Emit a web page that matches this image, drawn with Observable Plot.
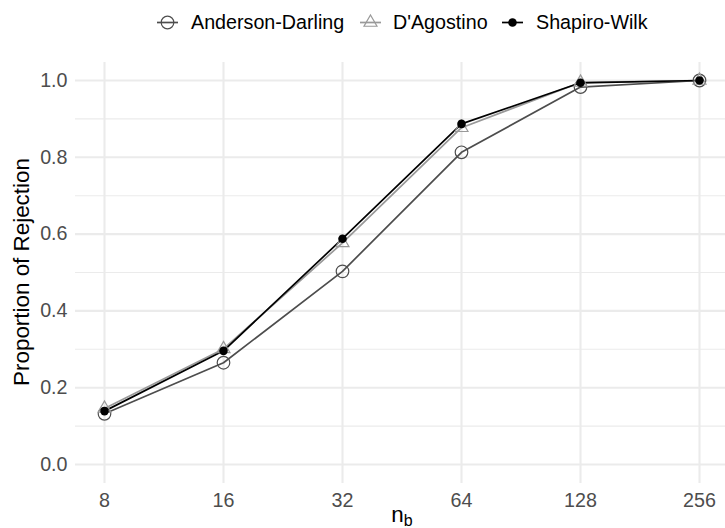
<!DOCTYPE html>
<html>
<head>
<meta charset="utf-8">
<script src="https://cdn.jsdelivr.net/npm/d3@7"></script>
<script src="https://cdn.jsdelivr.net/npm/@observablehq/plot@0.6"></script>
<style>
  html, body { margin: 0; padding: 0; background: #fff; }
  body { width: 725px; height: 528px; overflow: hidden; font-family: "Liberation Sans", Arial, sans-serif; }
  #legend { position: relative; width: 725px; height: 44px; }
  .item { position: absolute; top: 0; height: 44px; display: flex; align-items: center; font-size: 19.7px; color: #000; white-space: nowrap; }
  .key { position: absolute; top: 0; }
</style>
</head>
<body>
<div id="legend"></div>
<div id="chart"></div>
<script>
// ---- data ----
const sampleSizes = [8, 16, 32, 64, 128, 256];
const tests = ["Anderson-Darling", "D'Agostino", "Shapiro-Wilk"];
const andersonDarling = [0.132, 0.265, 0.503, 0.813, 0.983, 1.0];
const dAgostino = [0.146, 0.301, 0.577, 0.877, 0.995, 1.0];
const shapiroWilk = [0.139, 0.296, 0.588, 0.887, 0.994, 1.0];
const yTicks = [0, 0.2, 0.4, 0.6, 0.8, 1.0];
const yMinorTicks = [0.1, 0.3, 0.5, 0.7, 0.9];
const xTicks = [8, 16, 32, 64, 128, 256];
const seriesColors = ["#4D4D4D", "#999999", "#000000"];

const seriesValues = [andersonDarling, dAgostino, shapiroWilk];
const rows = [];
tests.forEach((t, i) => sampleSizes.forEach((n, j) => rows.push({test: t, n, p: seriesValues[i][j]})));

// triangle centred on centroid, r = circumradius
const triangle = {
  draw(context, size) {
    const r = Math.sqrt(size / Math.PI);
    const h = r * Math.sqrt(3) / 2;
    context.moveTo(0, -r);
    context.lineTo(h, r / 2);
    context.lineTo(-h, r / 2);
    context.closePath();
  }
};

const font = "Liberation Sans, Arial, sans-serif";
const chart = Plot.plot({
  width: 725,
  height: 484,
  marginLeft: 75,
  marginRight: 0,
  marginTop: 18,
  marginBottom: 45,
  style: {fontFamily: font, background: "#fff", overflow: "visible"},
  x: {type: "log", base: 2, domain: [8, 256], range: [104, 699]},
  y: {domain: [0, 1], range: [420, 36]},
  color: {domain: tests, range: seriesColors},
  marks: [
    Plot.gridY(yMinorTicks, {stroke: "#EBEBEB", strokeOpacity: 1, strokeWidth: 1.1}),
    Plot.gridY(yTicks, {stroke: "#EBEBEB", strokeOpacity: 1, strokeWidth: 2.1}),
    Plot.gridX(xTicks, {stroke: "#EBEBEB", strokeOpacity: 1, strokeWidth: 2.1}),
    Plot.axisY(yTicks, {tickSize: 0, tickPadding: 8, tickFormat: d => d.toFixed(1), fontSize: 19.7, fill: "#4D4D4D", label: null}),
    Plot.axisX(xTicks, {tickSize: 0, tickPadding: 9, tickFormat: d => String(d), fontSize: 19.7, fill: "#4D4D4D", label: null}),
    Plot.line(rows, {x: "n", y: "p", z: "test", stroke: "test", strokeWidth: 1.7}),
    Plot.dot(rows.filter(d => d.test === tests[0]), {x: "n", y: "p", r: 6.3, stroke: seriesColors[0], fill: "none", strokeWidth: 1.2}),
    Plot.dot(rows.filter(d => d.test === tests[1]), {x: "n", y: "p", r: 7.5, symbol: triangle, stroke: seriesColors[1], fill: "none", strokeWidth: 1.2}),
    Plot.dot(rows.filter(d => d.test === tests[2]), {x: "n", y: "p", r: 4.3, fill: seriesColors[2], stroke: "none"})
  ]
});
document.getElementById("chart").appendChild(chart);

const svg = d3.select(chart);
// y axis title
svg.append("text")
  .attr("transform", "translate(29,228) rotate(-90)")
  .attr("text-anchor", "middle")
  .attr("font-family", font)
  .attr("font-size", 22.4)
  .attr("fill", "#000")
  .text("Proportion of Rejection");
// x axis title n_b
const xt = svg.append("text")
  .attr("x", 402).attr("y", 477.5)
  .attr("text-anchor", "middle")
  .attr("font-family", font)
  .attr("font-size", 22.4)
  .attr("fill", "#000");
xt.append("tspan").text("n");
xt.append("tspan").attr("dy", 4.5).attr("font-size", 16).text("b");

// legend
const legend = d3.select("#legend");
const keyX = [157, 360, 502];
const textX = [191, 393, 536];
tests.forEach((t, i) => {
  const k = legend.append("svg").attr("class", "key")
    .style("left", keyX[i] + "px")
    .attr("width", 22).attr("height", 44);
  k.append("line").attr("x1", 0).attr("x2", 21).attr("y1", 22.5).attr("y2", 22.5)
    .attr("stroke", seriesColors[i]).attr("stroke-width", 1.7);
  if (i === 0) {
    k.append("circle").attr("cx", 10.5).attr("cy", 22.5).attr("r", 6.3)
      .attr("fill", "none").attr("stroke", seriesColors[0]).attr("stroke-width", 1.2);
  } else if (i === 1) {
    const r = 7.5, h = r * Math.sqrt(3) / 2;
    k.append("path").attr("d", `M${10.5},${22.5 - r}L${10.5 + h},${22.5 + r / 2}L${10.5 - h},${22.5 + r / 2}Z`)
      .attr("fill", "none").attr("stroke", seriesColors[1]).attr("stroke-width", 1.2);
  } else {
    k.append("circle").attr("cx", 10.5).attr("cy", 22.5).attr("r", 4.3).attr("fill", seriesColors[2]);
  }
  legend.append("div").attr("class", "item").style("left", textX[i] + "px").text(t);
});
</script>
</body>
</html>
